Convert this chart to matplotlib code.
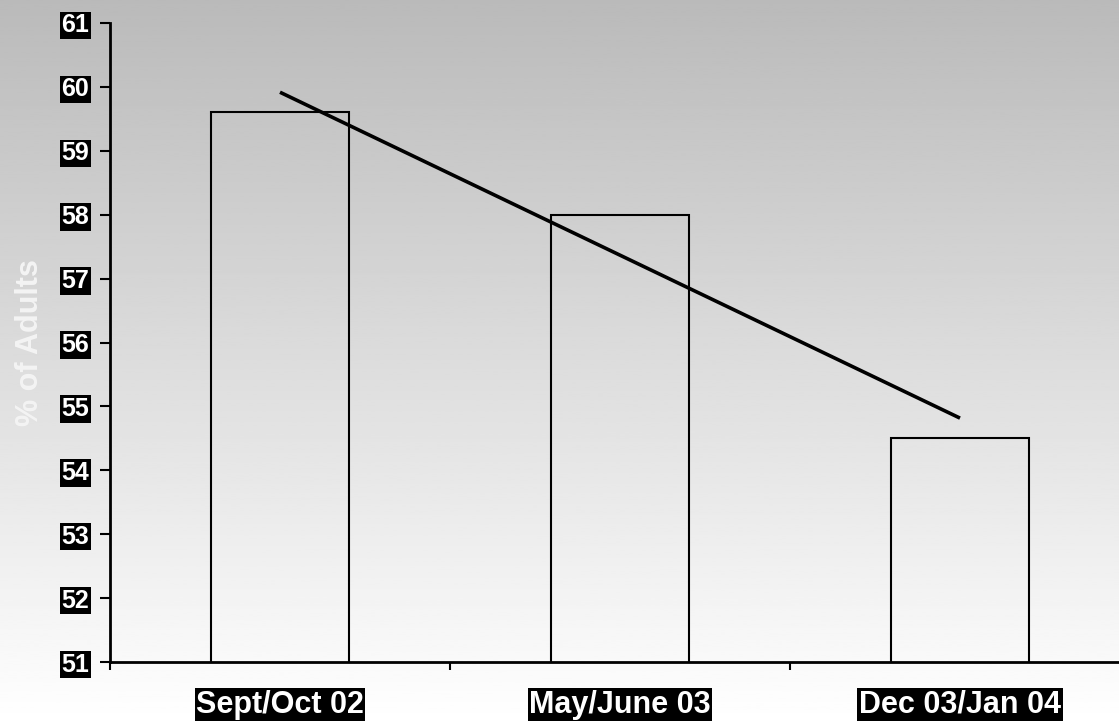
import matplotlib.pyplot as plt
import numpy as np

plt.rcParams['font.family'] = ['Liberation Sans', 'DejaVu Sans']

# survey waves and share of adults (%)
periods = ['Sept/Oct 02', 'May/June 03', 'Dec 03/Jan 04']
adults_pct = [59.6, 58.0, 54.5]
y_ticks = list(range(51, 62))

fig = plt.figure(figsize=(11.19, 7.23), dpi=100)

# grey-to-white background over the whole figure
bg = fig.add_axes([0, 0, 1, 1], zorder=0)
grad = np.linspace(0, 1, 256).reshape(-1, 1)
bg.imshow(grad, aspect='auto', cmap='gray', vmin=-2.7, vmax=1.0,
          extent=[0, 1, 0, 1], origin='upper')
bg.axis('off')

ax = fig.add_axes([110 / 1119, 61 / 723, 1020 / 1119, 639 / 723], zorder=1)
ax.patch.set_alpha(0)

x = np.arange(len(periods))
ax.bar(x, adults_pct, width=0.405, fill=False, edgecolor='black', linewidth=1.5)

# linear trend through the three waves
k, b = np.polyfit(x, adults_pct, 1)
ax.plot(x, k * x + b, color='black', linewidth=2.6, solid_capstyle='butt')

ax.set_xlim(-0.5, 2.5)
ax.set_ylim(51, 61)

ax.set_yticks(y_ticks)
ax.set_yticklabels([str(v) for v in y_ticks], fontsize=18, fontweight='bold',
                   color='white')
for lbl in ax.get_yticklabels():
    lbl.set_bbox(dict(facecolor='black', edgecolor='none', pad=1.2))
ax.tick_params(axis='y', direction='out', length=7, width=1.5, pad=8)

ax.set_xticks([-0.5, 0.5, 1.5, 2.5])
ax.set_xticklabels([])
ax.tick_params(axis='x', which='major', direction='out', length=6, width=1.5)
ax.set_xticks(x, minor=True)
ax.set_xticklabels(periods, minor=True, fontsize=22, fontweight='bold',
                   color='white')
for lbl in ax.get_xticklabels(minor=True):
    lbl.set_bbox(dict(facecolor='black', edgecolor='none', pad=1.2))
ax.tick_params(axis='x', which='minor', length=0, pad=20)

for s in ['top', 'right']:
    ax.spines[s].set_visible(False)
for s in ['left', 'bottom']:
    ax.spines[s].set_linewidth(2)

ax.set_ylabel('% of Adults', fontsize=22, fontweight='bold', color='#f4f4f4',
              labelpad=12)

fig.savefig('out.png', dpi=100)
